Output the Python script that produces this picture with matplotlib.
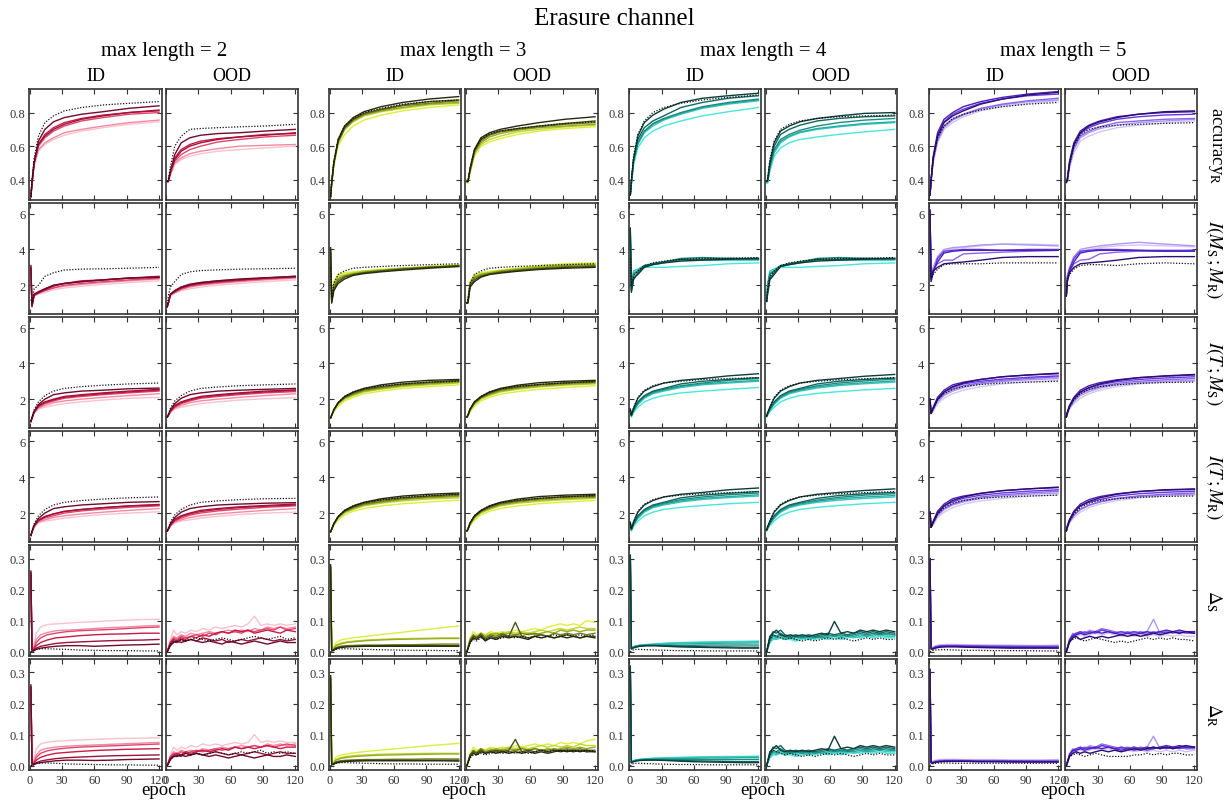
import matplotlib
matplotlib.use("Agg")
import matplotlib.pyplot as plt

plt.rcParams['font.family'] = ['Liberation Serif', 'DejaVu Serif']
plt.rcParams['mathtext.fontset'] = 'stix'

# ---------------- data ----------------
epochs_s = [1, 2, 4, 8, 14, 22, 32, 48, 68, 92, 120]
epochs_d = [1, 2, 3, 6, 10, 16, 24, 34, 46, 60, 75, 90, 105, 120]
epochs_n = [1, 4, 7, 10, 14, 18, 23, 28, 34, 40, 46, 52, 58, 64, 70, 76, 82, 88, 94, 100, 106, 112, 120]

max_lengths = [2, 3, 4, 5]
split_names = ['ID', 'OOD']
row_labels = [r'accuracy$_{\mathrm{R}}$', r'$I(M_{\mathrm{S}}\,;M_{\mathrm{R}})$',
              r'$I(T\,;M_{\mathrm{S}})$', r'$I(T\,;M_{\mathrm{R}})$',
              r'$\Delta_{\mathrm{S}}$', r'$\Delta_{\mathrm{R}}$']
x_ticks = [0, 30, 60, 90, 120]
y_ticks = [[0.4, 0.6, 0.8], [2, 4, 6], [2, 4, 6], [2, 4, 6],
           [0.0, 0.1, 0.2, 0.3], [0.0, 0.1, 0.2, 0.3]]
y_ticklabels = [['0.4', '0.6', '0.8'], ['2', '4', '6'], ['2', '4', '6'], ['2', '4', '6'],
                ['0.0', '0.1', '0.2', '0.3'], ['0.0', '0.1', '0.2', '0.3']]

palettes = {
    2: ['#6e0b2e', '#9c1238', '#c81a47', '#e0466b', '#ef8aa2', '#f8c2cf'],
    3: ['#262b0c', '#4b5417', '#737f1d', '#9aab22', '#c2d62c', '#dcef3a'],
    4: ['#0c3d39', '#12665e', '#1c8c83', '#28aca2', '#36c9bf', '#48e6dc'],
    5: ['#2c0e72', '#4a1fbe', '#6838dc', '#8a66ea', '#ac97f2', '#d1c6f8'],
}

# ---- max length = 2 ----
acc_L2_id = [
    [.30, .38, .50, .63, .70, .745, .77, .79, .805, .825, .84],
    [.30, .38, .50, .61, .66, .70, .73, .76, .78, .80, .815],
    [.30, .38, .50, .61, .67, .71, .74, .765, .785, .80, .81],
    [.30, .38, .50, .60, .65, .69, .72, .75, .77, .79, .80],
    [.30, .38, .49, .58, .62, .65, .68, .70, .72, .74, .755],
    [.30, .37, .48, .57, .61, .64, .665, .69, .71, .73, .745],
    [.30, .40, .53, .66, .74, .78, .81, .83, .845, .855, .865]]
acc_L2_ood = [
    [.39, .39, .45, .55, .62, .65, .665, .675, .68, .69, .70],
    [.39, .39, .45, .52, .57, .60, .62, .64, .655, .665, .68],
    [.39, .39, .45, .53, .58, .61, .63, .645, .655, .67, .675],
    [.39, .39, .44, .51, .55, .58, .60, .625, .64, .655, .665],
    [.39, .39, .43, .50, .53, .555, .57, .585, .60, .605, .61],
    [.39, .39, .43, .49, .52, .54, .555, .57, .58, .59, .60],
    [.39, .40, .48, .60, .66, .70, .705, .71, .715, .72, .73]]
mi_L2_id = [
    [3.1, .85, 1.5, 1.6, 1.8, 2.0, 2.1, 2.2, 2.3, 2.4, 2.45],
    [3.0, .8, 1.45, 1.6, 1.75, 1.95, 2.1, 2.2, 2.3, 2.4, 2.5],
    [2.9, .9, 1.5, 1.65, 1.8, 2.0, 2.1, 2.25, 2.3, 2.4, 2.45],
    [2.8, .85, 1.45, 1.55, 1.7, 1.85, 2.0, 2.1, 2.2, 2.3, 2.4],
    [2.6, .9, 1.4, 1.55, 1.7, 1.85, 1.95, 2.05, 2.15, 2.25, 2.35],
    [2.5, .9, 1.4, 1.5, 1.6, 1.75, 1.85, 1.95, 2.05, 2.15, 2.25],
    [1.2, 1.0, 1.8, 2.0, 2.5, 2.7, 2.85, 2.9, 2.92, 2.95, 3.0]]
mi_L2_ood = [
    [.8, 1.0, 1.5, 1.7, 1.9, 2.05, 2.15, 2.25, 2.35, 2.42, 2.5],
    [.8, 1.0, 1.5, 1.65, 1.85, 2.0, 2.1, 2.2, 2.3, 2.4, 2.5],
    [.8, 1.0, 1.5, 1.7, 1.9, 2.05, 2.15, 2.25, 2.3, 2.4, 2.45],
    [.8, 1.0, 1.45, 1.6, 1.8, 1.95, 2.05, 2.15, 2.25, 2.35, 2.45],
    [.8, 1.0, 1.45, 1.6, 1.75, 1.9, 2.0, 2.1, 2.2, 2.3, 2.4],
    [.8, 1.0, 1.4, 1.55, 1.7, 1.8, 1.9, 2.0, 2.1, 2.2, 2.3],
    [.8, 1.4, 1.9, 2.2, 2.6, 2.75, 2.82, 2.86, 2.9, 2.92, 2.95]]
ts_L2_id = [
    [.75, .95, 1.3, 1.7, 2.0, 2.25, 2.35, 2.45, 2.5, 2.58, 2.62],
    [.75, .95, 1.3, 1.65, 1.85, 2.0, 2.15, 2.25, 2.35, 2.45, 2.55],
    [.75, .95, 1.3, 1.6, 1.8, 1.95, 2.1, 2.2, 2.3, 2.4, 2.5],
    [.75, .95, 1.25, 1.55, 1.75, 1.9, 2.05, 2.15, 2.25, 2.35, 2.45],
    [.75, .95, 1.25, 1.5, 1.65, 1.8, 1.9, 2.0, 2.1, 2.2, 2.3],
    [.75, .9, 1.2, 1.45, 1.55, 1.65, 1.75, 1.85, 1.95, 2.05, 2.1],
    [.75, 1.0, 1.4, 1.85, 2.2, 2.45, 2.6, 2.7, 2.78, 2.85, 2.9]]
ts_L2_ood = [
    [1.0, 1.1, 1.4, 1.75, 2.05, 2.25, 2.35, 2.45, 2.5, 2.55, 2.6],
    [1.0, 1.1, 1.35, 1.65, 1.85, 2.0, 2.15, 2.25, 2.35, 2.45, 2.52],
    [1.0, 1.1, 1.35, 1.6, 1.8, 1.95, 2.1, 2.2, 2.3, 2.4, 2.48],
    [1.0, 1.1, 1.3, 1.55, 1.75, 1.9, 2.05, 2.15, 2.25, 2.35, 2.42],
    [1.0, 1.05, 1.3, 1.5, 1.65, 1.8, 1.9, 2.0, 2.1, 2.2, 2.3],
    [1.0, 1.05, 1.25, 1.45, 1.55, 1.65, 1.75, 1.85, 1.95, 2.02, 2.08],
    [1.0, 1.15, 1.5, 1.9, 2.2, 2.45, 2.6, 2.68, 2.75, 2.8, 2.85]]
tr_L2_id = [
    [.75, .95, 1.3, 1.7, 2.0, 2.25, 2.35, 2.45, 2.52, 2.6, 2.64],
    [.75, .95, 1.3, 1.6, 1.8, 1.95, 2.1, 2.2, 2.3, 2.4, 2.48],
    [.75, .95, 1.3, 1.6, 1.8, 1.95, 2.08, 2.2, 2.3, 2.4, 2.45],
    [.75, .95, 1.25, 1.55, 1.72, 1.85, 2.0, 2.12, 2.22, 2.32, 2.4],
    [.75, .95, 1.25, 1.5, 1.62, 1.75, 1.85, 1.95, 2.05, 2.15, 2.25],
    [.75, .9, 1.2, 1.45, 1.55, 1.62, 1.72, 1.82, 1.92, 2.0, 2.07],
    [.75, 1.0, 1.4, 1.85, 2.2, 2.45, 2.6, 2.7, 2.78, 2.85, 2.9]]
tr_L2_ood = [
    [1.0, 1.1, 1.4, 1.75, 2.05, 2.25, 2.35, 2.45, 2.5, 2.55, 2.58],
    [1.0, 1.1, 1.35, 1.65, 1.85, 2.0, 2.15, 2.25, 2.35, 2.42, 2.5],
    [1.0, 1.1, 1.35, 1.6, 1.8, 1.95, 2.08, 2.2, 2.3, 2.38, 2.45],
    [1.0, 1.1, 1.3, 1.55, 1.72, 1.88, 2.0, 2.12, 2.22, 2.32, 2.4],
    [1.0, 1.05, 1.3, 1.5, 1.62, 1.75, 1.85, 1.95, 2.05, 2.15, 2.25],
    [1.0, 1.05, 1.25, 1.45, 1.55, 1.62, 1.72, 1.82, 1.92, 2.0, 2.05],
    [1.0, 1.15, 1.5, 1.9, 2.2, 2.45, 2.6, 2.68, 2.75, 2.8, 2.82]]
ds_L2_id = [
    [.26, .005, .002, .008, .012, .015, .018, .02, .02, .018, .02, .022, .023, .025],
    [.255, .006, .003, .012, .018, .022, .027, .03, .032, .034, .036, .037, .038, .04],
    [.25, .008, .004, .02, .03, .038, .045, .048, .052, .055, .057, .058, .06, .06],
    [.24, .01, .005, .03, .045, .055, .06, .065, .068, .07, .072, .075, .078, .08],
    [.23, .012, .006, .04, .055, .062, .068, .07, .072, .075, .078, .08, .083, .085],
    [.22, .015, .01, .06, .08, .088, .09, .092, .095, .097, .1, .102, .104, .105],
    [0, .002, .004, .008, .01, .01, .009, .008, .006, .005, .004, .004, .003, .003]]
ds_L2_ood = [
    [0, .02, .03, .035, .03, .035, .04, .035, .03, .035, .03, .025, .035, .03, .025, .03, .035, .03, .025, .03, .035, .03, .03],
    [0, .025, .035, .03, .04, .035, .04, .035, .045, .04, .035, .04, .03, .035, .04, .035, .04, .045, .04, .035, .04, .035, .04],
    [0, .03, .04, .035, .045, .04, .05, .045, .055, .05, .06, .065, .06, .07, .065, .07, .06, .065, .07, .065, .06, .07, .065],
    [0, .03, .045, .04, .05, .045, .05, .055, .05, .06, .055, .065, .06, .065, .06, .07, .065, .07, .075, .07, .08, .07, .075],
    [0, .035, .05, .045, .055, .05, .06, .055, .06, .065, .06, .065, .07, .065, .07, .065, .075, .07, .08, .075, .08, .075, .08],
    [0, .04, .07, .055, .065, .06, .07, .065, .075, .07, .08, .075, .08, .085, .08, .09, .115, .085, .09, .085, .09, .085, .09],
    [0, .025, .035, .03, .04, .035, .04, .045, .04, .035, .04, .045, .04, .035, .04, .045, .05, .045, .04, .045, .05, .04, .045]]
dr_L2_id = [
    [.26, .005, .002, .007, .01, .013, .016, .018, .018, .017, .018, .02, .021, .022],
    [.255, .006, .003, .01, .015, .019, .023, .026, .028, .03, .032, .033, .034, .035],
    [.25, .008, .004, .018, .027, .034, .04, .043, .046, .049, .051, .053, .054, .055],
    [.24, .01, .005, .027, .04, .048, .053, .057, .06, .062, .064, .066, .068, .07],
    [.23, .012, .006, .035, .05, .056, .06, .063, .065, .067, .069, .071, .073, .075],
    [.22, .015, .01, .055, .07, .076, .079, .081, .083, .085, .087, .088, .089, .09],
    [0, .002, .004, .008, .009, .009, .008, .006, .005, .004, .003, .003, .002, .002]]
dr_L2_ood = [
    [0, .02, .03, .03, .035, .03, .035, .04, .035, .03, .035, .03, .025, .03, .035, .03, .025, .03, .035, .03, .03, .035, .03],
    [0, .025, .03, .035, .03, .04, .035, .04, .035, .04, .045, .04, .035, .04, .035, .04, .045, .04, .035, .04, .045, .04, .04],
    [0, .025, .035, .04, .035, .045, .04, .045, .05, .045, .05, .055, .05, .06, .055, .06, .055, .06, .065, .06, .055, .06, .06],
    [0, .03, .04, .035, .045, .04, .045, .05, .045, .05, .055, .05, .055, .06, .055, .06, .065, .06, .065, .06, .065, .07, .065],
    [0, .03, .045, .04, .05, .045, .05, .045, .055, .05, .055, .06, .055, .06, .065, .06, .065, .06, .07, .065, .07, .065, .07],
    [0, .035, .06, .05, .06, .055, .065, .06, .07, .065, .07, .065, .07, .075, .07, .075, .1, .075, .08, .075, .08, .075, .075],
    [0, .02, .03, .03, .035, .04, .035, .04, .035, .04, .045, .04, .035, .04, .045, .04, .045, .05, .04, .045, .04, .045, .04]]

# ---- max length = 3 ----
acc_L3_id = [
    [.30, .38, .50, .64, .72, .77, .805, .835, .86, .88, .895],
    [.30, .38, .50, .63, .71, .76, .795, .82, .845, .865, .875],
    [.30, .38, .50, .63, .71, .755, .79, .815, .84, .855, .87],
    [.30, .38, .50, .62, .70, .75, .785, .81, .83, .85, .86],
    [.30, .38, .49, .62, .70, .745, .78, .805, .825, .845, .855],
    [.30, .37, .48, .60, .67, .72, .755, .785, .81, .83, .845],
    [.30, .39, .51, .64, .72, .765, .80, .825, .85, .865, .875]]
acc_L3_ood = [
    [.39, .39, .47, .58, .65, .68, .70, .72, .74, .76, .775],
    [.39, .39, .46, .57, .64, .67, .69, .705, .72, .735, .75],
    [.39, .39, .46, .57, .63, .665, .685, .70, .715, .73, .74],
    [.39, .39, .45, .56, .62, .655, .675, .695, .71, .72, .73],
    [.39, .39, .45, .55, .61, .64, .66, .685, .70, .715, .725],
    [.39, .38, .44, .54, .60, .625, .645, .67, .69, .705, .715],
    [.39, .39, .47, .58, .64, .675, .69, .705, .72, .735, .745]]
mi_L3_id = [
    [4.1, 1.0, 1.7, 2.1, 2.35, 2.55, 2.65, 2.75, 2.85, 2.95, 3.05],
    [4.0, 1.1, 1.8, 2.2, 2.45, 2.6, 2.7, 2.8, 2.9, 3.0, 3.1],
    [3.9, 1.1, 1.9, 2.3, 2.5, 2.6, 2.7, 2.8, 2.9, 3.0, 3.05],
    [3.8, 1.2, 2.0, 2.4, 2.55, 2.65, 2.75, 2.85, 2.95, 3.0, 3.1],
    [3.7, 1.2, 2.1, 2.5, 2.6, 2.7, 2.8, 2.85, 2.95, 3.05, 3.1],
    [3.6, 1.3, 2.2, 2.6, 2.7, 2.75, 2.8, 2.9, 2.95, 3.05, 3.15],
    [3.0, 1.3, 2.1, 2.6, 2.8, 2.95, 3.0, 3.05, 3.1, 3.15, 3.2]]
mi_L3_ood = [
    [1.0, 1.0, 1.9, 2.2, 2.45, 2.6, 2.68, 2.78, 2.88, 2.95, 3.0],
    [1.0, 1.05, 2.0, 2.3, 2.5, 2.62, 2.72, 2.82, 2.92, 3.0, 3.05],
    [1.0, 1.1, 2.1, 2.4, 2.55, 2.65, 2.75, 2.85, 2.95, 3.05, 3.1],
    [1.0, 1.1, 2.1, 2.45, 2.6, 2.7, 2.8, 2.9, 3.0, 3.1, 3.15],
    [1.0, 1.15, 2.2, 2.5, 2.65, 2.72, 2.82, 2.92, 3.05, 3.15, 3.2],
    [1.0, 1.2, 2.2, 2.6, 2.7, 2.78, 2.85, 2.95, 3.1, 3.2, 3.25],
    [1.0, 1.3, 2.1, 2.6, 2.8, 2.95, 3.0, 3.05, 3.1, 3.15, 3.2]]
ts_L3_id = [
    [.95, 1.1, 1.4, 1.8, 2.15, 2.4, 2.6, 2.8, 2.95, 3.05, 3.1],
    [.95, 1.1, 1.4, 1.8, 2.1, 2.35, 2.55, 2.7, 2.85, 2.95, 3.05],
    [.95, 1.1, 1.4, 1.8, 2.1, 2.3, 2.5, 2.65, 2.8, 2.9, 3.0],
    [.95, 1.1, 1.4, 1.75, 2.05, 2.25, 2.45, 2.6, 2.75, 2.85, 2.95],
    [.95, 1.1, 1.35, 1.7, 2.0, 2.2, 2.4, 2.55, 2.7, 2.8, 2.9],
    [.95, 1.05, 1.3, 1.6, 1.9, 2.1, 2.3, 2.45, 2.6, 2.7, 2.8],
    [.95, 1.1, 1.4, 1.8, 2.15, 2.4, 2.6, 2.75, 2.85, 2.95, 3.0]]
ts_L3_ood = [
    [1.0, 1.1, 1.45, 1.85, 2.15, 2.4, 2.6, 2.78, 2.92, 3.0, 3.05],
    [1.0, 1.1, 1.45, 1.8, 2.1, 2.35, 2.55, 2.7, 2.82, 2.92, 3.0],
    [1.0, 1.1, 1.4, 1.8, 2.1, 2.3, 2.5, 2.65, 2.78, 2.88, 2.95],
    [1.0, 1.1, 1.4, 1.75, 2.05, 2.25, 2.45, 2.6, 2.72, 2.82, 2.9],
    [1.0, 1.1, 1.35, 1.7, 2.0, 2.2, 2.4, 2.55, 2.68, 2.78, 2.85],
    [1.0, 1.05, 1.3, 1.6, 1.9, 2.1, 2.28, 2.42, 2.55, 2.65, 2.75],
    [1.0, 1.1, 1.45, 1.85, 2.15, 2.4, 2.58, 2.72, 2.82, 2.9, 2.98]]
tr_L3_id = [
    [.95, 1.1, 1.4, 1.8, 2.15, 2.4, 2.6, 2.8, 2.95, 3.05, 3.12],
    [.95, 1.1, 1.4, 1.8, 2.1, 2.35, 2.55, 2.72, 2.85, 2.95, 3.05],
    [.95, 1.1, 1.4, 1.8, 2.1, 2.3, 2.5, 2.65, 2.8, 2.9, 2.98],
    [.95, 1.1, 1.4, 1.75, 2.05, 2.25, 2.45, 2.6, 2.75, 2.85, 2.92],
    [.95, 1.1, 1.35, 1.7, 2.0, 2.2, 2.4, 2.55, 2.68, 2.78, 2.85],
    [.95, 1.05, 1.3, 1.6, 1.9, 2.1, 2.25, 2.4, 2.52, 2.62, 2.72],
    [.95, 1.1, 1.4, 1.8, 2.15, 2.4, 2.6, 2.75, 2.88, 2.98, 3.05]]
tr_L3_ood = [
    [1.0, 1.1, 1.45, 1.85, 2.15, 2.4, 2.6, 2.78, 2.92, 3.0, 3.05],
    [1.0, 1.1, 1.45, 1.8, 2.1, 2.35, 2.55, 2.7, 2.82, 2.92, 2.98],
    [1.0, 1.1, 1.4, 1.8, 2.1, 2.3, 2.5, 2.65, 2.78, 2.88, 2.92],
    [1.0, 1.1, 1.4, 1.75, 2.05, 2.25, 2.45, 2.6, 2.72, 2.8, 2.88],
    [1.0, 1.1, 1.35, 1.7, 2.0, 2.2, 2.4, 2.55, 2.65, 2.75, 2.82],
    [1.0, 1.05, 1.3, 1.6, 1.9, 2.1, 2.25, 2.4, 2.52, 2.62, 2.7],
    [1.0, 1.1, 1.45, 1.85, 2.15, 2.4, 2.58, 2.72, 2.82, 2.9, 2.98]]
ds_L3_id = [
    [.28, .005, .003, .01, .014, .016, .017, .018, .018, .018, .018, .018, .018, .018],
    [.275, .006, .004, .012, .016, .018, .019, .02, .02, .02, .02, .02, .02, .02],
    [.27, .007, .005, .014, .018, .02, .021, .022, .022, .023, .023, .024, .025, .025],
    [.27, .008, .006, .02, .025, .03, .033, .036, .038, .04, .041, .042, .043, .043],
    [.26, .009, .007, .022, .028, .032, .035, .038, .04, .042, .043, .044, .045, .045],
    [.25, .01, .008, .03, .038, .042, .046, .05, .055, .06, .066, .072, .078, .083],
    [0, .002, .004, .008, .01, .01, .009, .008, .007, .006, .005, .005, .004, .004]]
ds_L3_ood = [
    [0, .03, .045, .04, .05, .035, .045, .04, .05, .045, .05, .045, .04, .05, .045, .05, .045, .05, .045, .05, .045, .05, .045],
    [0, .035, .05, .045, .055, .04, .05, .045, .055, .05, .095, .05, .045, .05, .055, .05, .045, .05, .055, .05, .045, .05, .05],
    [0, .04, .055, .045, .06, .045, .055, .05, .06, .05, .055, .06, .055, .06, .055, .05, .06, .055, .06, .055, .06, .055, .06],
    [0, .035, .05, .05, .055, .05, .055, .06, .055, .06, .055, .05, .06, .055, .06, .065, .06, .07, .065, .07, .065, .07, .07],
    [0, .04, .055, .05, .06, .055, .06, .055, .06, .065, .06, .065, .06, .065, .07, .065, .07, .075, .07, .075, .08, .075, .075],
    [0, .045, .065, .055, .06, .055, .065, .06, .065, .06, .07, .065, .07, .075, .07, .08, .085, .09, .085, .09, .085, .1, .095],
    [0, .03, .04, .035, .045, .04, .045, .04, .045, .05, .045, .05, .045, .05, .045, .05, .055, .05, .055, .05, .055, .05, .055]]
dr_L3_id = [
    [.29, .005, .003, .009, .012, .014, .015, .016, .016, .016, .016, .016, .016, .015],
    [.285, .006, .004, .011, .014, .016, .017, .018, .018, .018, .018, .018, .018, .018],
    [.28, .007, .005, .013, .016, .018, .019, .02, .02, .021, .021, .022, .022, .022],
    [.28, .008, .006, .018, .023, .027, .03, .032, .034, .035, .036, .037, .038, .038],
    [.27, .009, .007, .02, .026, .03, .033, .035, .037, .038, .039, .04, .04, .04],
    [.26, .01, .008, .028, .034, .038, .042, .046, .05, .054, .059, .064, .068, .072],
    [0, .002, .004, .008, .01, .01, .009, .008, .007, .006, .006, .005, .005, .005]]
dr_L3_ood = [
    [0, .03, .04, .035, .045, .04, .045, .04, .045, .04, .045, .04, .045, .04, .045, .04, .045, .05, .045, .05, .045, .05, .045],
    [0, .035, .045, .04, .05, .04, .045, .05, .045, .05, .085, .045, .05, .045, .05, .045, .05, .045, .05, .045, .05, .045, .045],
    [0, .035, .05, .04, .055, .045, .05, .045, .05, .045, .05, .055, .05, .055, .05, .05, .055, .05, .055, .05, .055, .05, .05],
    [0, .03, .045, .045, .05, .045, .05, .055, .05, .055, .05, .045, .05, .055, .05, .055, .05, .055, .06, .055, .06, .055, .06],
    [0, .035, .05, .045, .055, .05, .055, .05, .055, .06, .055, .06, .055, .06, .065, .06, .065, .06, .065, .06, .07, .065, .065],
    [0, .04, .06, .05, .055, .05, .06, .055, .06, .055, .065, .06, .065, .07, .065, .07, .065, .075, .07, .075, .07, .08, .085],
    [0, .025, .035, .035, .04, .035, .04, .045, .04, .045, .04, .045, .04, .045, .05, .045, .05, .045, .05, .045, .05, .045, .05]]

# ---- max length = 4 ----
acc_L4_id = [
    [.31, .39, .52, .66, .74, .785, .82, .86, .885, .90, .915],
    [.31, .39, .52, .64, .71, .75, .78, .83, .86, .885, .90],
    [.31, .38, .51, .62, .69, .735, .765, .80, .835, .86, .88],
    [.31, .38, .51, .62, .685, .73, .76, .795, .83, .855, .875],
    [.31, .38, .50, .61, .68, .72, .755, .79, .825, .85, .87],
    [.31, .37, .49, .59, .65, .69, .72, .75, .78, .805, .83],
    [.31, .40, .54, .67, .75, .80, .83, .855, .875, .89, .905]]
acc_L4_ood = [
    [.39, .40, .50, .62, .69, .72, .745, .765, .78, .795, .80],
    [.39, .40, .49, .60, .67, .70, .725, .75, .765, .775, .78],
    [.39, .39, .48, .58, .64, .67, .695, .72, .74, .755, .765],
    [.39, .39, .47, .57, .63, .66, .685, .705, .72, .735, .745],
    [.39, .39, .47, .56, .62, .655, .68, .70, .715, .73, .74],
    [.38, .38, .45, .54, .59, .62, .64, .655, .67, .685, .70],
    [.39, .41, .52, .63, .70, .73, .75, .765, .775, .78, .785]]
mi_L4_id = [
    [5.2, 1.6, 2.4, 2.6, 3.0, 3.15, 3.25, 3.35, 3.4, 3.45, 3.5],
    [5.1, 1.7, 2.3, 2.7, 3.05, 3.2, 3.3, 3.45, 3.45, 3.5, 3.5],
    [5.0, 1.8, 2.6, 2.8, 3.1, 3.2, 3.3, 3.5, 3.55, 3.5, 3.45],
    [4.8, 1.9, 2.7, 2.8, 3.05, 3.15, 3.25, 3.4, 3.45, 3.45, 3.45],
    [4.6, 2.0, 2.8, 2.9, 3.1, 3.2, 3.3, 3.4, 3.4, 3.4, 3.4],
    [4.4, 2.0, 2.6, 2.8, 3.0, 3.0, 3.0, 3.05, 3.1, 3.2, 3.25],
    [3.5, 2.0, 2.5, 2.8, 3.1, 3.25, 3.35, 3.45, 3.5, 3.5, 3.55]]
mi_L4_ood = [
    [1.1, 1.5, 2.3, 2.6, 3.05, 3.15, 3.25, 3.35, 3.4, 3.45, 3.5],
    [1.1, 1.7, 2.4, 2.7, 3.05, 3.2, 3.3, 3.45, 3.45, 3.5, 3.5],
    [1.1, 1.9, 2.6, 2.8, 3.1, 3.2, 3.3, 3.5, 3.55, 3.5, 3.45],
    [1.1, 2.0, 2.7, 2.8, 3.05, 3.15, 3.25, 3.4, 3.45, 3.45, 3.45],
    [1.1, 2.1, 2.8, 2.9, 3.1, 3.2, 3.3, 3.4, 3.4, 3.4, 3.4],
    [1.1, 2.0, 2.6, 2.8, 3.0, 3.0, 3.0, 3.05, 3.1, 3.2, 3.25],
    [1.1, 1.8, 2.5, 2.8, 3.1, 3.25, 3.35, 3.45, 3.5, 3.5, 3.55]]
ts_L4_id = [
    [1.45, 1.1, 1.5, 2.05, 2.45, 2.7, 2.9, 3.05, 3.15, 3.3, 3.42],
    [1.4, 1.1, 1.4, 1.85, 2.2, 2.45, 2.6, 2.85, 3.0, 3.1, 3.2],
    [1.4, 1.1, 1.4, 1.8, 2.15, 2.4, 2.55, 2.75, 2.9, 3.05, 3.15],
    [1.35, 1.05, 1.35, 1.75, 2.1, 2.35, 2.5, 2.7, 2.85, 2.95, 3.05],
    [1.35, 1.05, 1.35, 1.7, 2.05, 2.3, 2.45, 2.65, 2.8, 2.9, 3.0],
    [1.3, 1.0, 1.25, 1.55, 1.85, 2.05, 2.2, 2.35, 2.45, 2.55, 2.65],
    [1.4, 1.1, 1.5, 2.1, 2.5, 2.75, 2.9, 3.0, 3.1, 3.15, 3.2]]
ts_L4_ood = [
    [1.05, 1.25, 1.55, 2.05, 2.45, 2.7, 2.9, 3.05, 3.15, 3.28, 3.38],
    [1.05, 1.2, 1.45, 1.85, 2.2, 2.45, 2.6, 2.85, 3.0, 3.1, 3.18],
    [1.05, 1.2, 1.45, 1.8, 2.15, 2.4, 2.55, 2.75, 2.9, 3.02, 3.12],
    [1.05, 1.15, 1.4, 1.75, 2.1, 2.35, 2.5, 2.68, 2.82, 2.92, 3.02],
    [1.05, 1.15, 1.4, 1.7, 2.05, 2.3, 2.45, 2.62, 2.76, 2.86, 2.95],
    [1.0, 1.1, 1.3, 1.55, 1.85, 2.05, 2.2, 2.32, 2.42, 2.52, 2.6],
    [1.05, 1.25, 1.55, 2.1, 2.5, 2.75, 2.9, 3.0, 3.08, 3.14, 3.2]]
tr_L4_id = [
    [1.5, 1.1, 1.5, 2.05, 2.45, 2.7, 2.9, 3.05, 3.15, 3.3, 3.4],
    [1.45, 1.1, 1.4, 1.85, 2.2, 2.45, 2.6, 2.85, 3.0, 3.1, 3.2],
    [1.4, 1.1, 1.4, 1.8, 2.15, 2.4, 2.55, 2.75, 2.9, 3.02, 3.12],
    [1.35, 1.05, 1.35, 1.75, 2.1, 2.35, 2.5, 2.68, 2.82, 2.92, 3.02],
    [1.35, 1.05, 1.35, 1.7, 2.05, 2.3, 2.45, 2.62, 2.76, 2.86, 2.95],
    [1.3, 1.0, 1.25, 1.55, 1.85, 2.05, 2.2, 2.32, 2.42, 2.52, 2.6],
    [1.4, 1.1, 1.5, 2.1, 2.5, 2.75, 2.9, 3.0, 3.08, 3.14, 3.2]]
tr_L4_ood = [
    [1.05, 1.25, 1.55, 2.05, 2.45, 2.7, 2.9, 3.05, 3.15, 3.26, 3.35],
    [1.05, 1.2, 1.45, 1.85, 2.2, 2.45, 2.6, 2.82, 2.98, 3.08, 3.15],
    [1.05, 1.2, 1.45, 1.8, 2.15, 2.4, 2.55, 2.72, 2.88, 3.0, 3.08],
    [1.05, 1.15, 1.4, 1.75, 2.1, 2.35, 2.5, 2.66, 2.8, 2.9, 2.98],
    [1.05, 1.15, 1.4, 1.7, 2.05, 2.3, 2.45, 2.6, 2.72, 2.82, 2.9],
    [1.0, 1.1, 1.3, 1.55, 1.85, 2.05, 2.2, 2.32, 2.42, 2.52, 2.6],
    [1.05, 1.25, 1.55, 2.1, 2.5, 2.75, 2.9, 3.0, 3.08, 3.14, 3.2]]
ds_L4_id = [
    [.31, .01, .012, .015, .018, .02, .02, .018, .016, .015, .014, .013, .012, .012],
    [.31, .01, .012, .016, .019, .02, .02, .019, .018, .017, .016, .016, .015, .015],
    [.31, .01, .013, .017, .02, .021, .021, .02, .02, .021, .022, .022, .022, .022],
    [.31, .01, .014, .018, .02, .022, .023, .024, .025, .026, .027, .028, .028, .029],
    [.31, .01, .015, .019, .021, .023, .025, .027, .029, .03, .031, .032, .032, .033],
    [.31, .01, .015, .02, .022, .024, .026, .028, .03, .031, .032, .033, .034, .035],
    [0, .003, .006, .008, .008, .007, .006, .005, .004, .004, .003, .003, .003, .003]]
ds_L4_ood = [
    [0, .05, .06, .07, .055, .05, .055, .05, .055, .05, .055, .06, .055, .098, .06, .065, .06, .07, .065, .07, .065, .07, .065],
    [0, .045, .065, .06, .07, .055, .05, .055, .05, .055, .05, .055, .06, .055, .06, .055, .06, .065, .06, .065, .06, .065, .06],
    [0, .04, .055, .05, .06, .05, .045, .05, .045, .05, .045, .05, .055, .05, .055, .05, .055, .06, .055, .06, .055, .06, .055],
    [0, .035, .05, .045, .055, .045, .05, .045, .05, .045, .05, .045, .05, .055, .05, .055, .05, .055, .05, .055, .06, .055, .055],
    [0, .03, .045, .04, .05, .04, .045, .04, .045, .04, .045, .05, .045, .05, .045, .05, .045, .05, .055, .05, .055, .05, .05],
    [0, .03, .04, .04, .045, .04, .04, .035, .04, .045, .04, .045, .04, .045, .04, .045, .05, .045, .05, .045, .05, .045, .045],
    [0, .04, .055, .05, .045, .04, .045, .04, .035, .04, .035, .04, .045, .04, .045, .04, .035, .04, .045, .04, .045, .04, .04]]
dr_L4_id = [
    [.32, .01, .012, .015, .017, .018, .018, .017, .015, .013, .012, .011, .01, .01],
    [.32, .01, .012, .016, .018, .019, .019, .018, .017, .016, .015, .014, .013, .013],
    [.315, .01, .013, .017, .019, .02, .02, .02, .02, .02, .02, .02, .02, .02],
    [.31, .01, .014, .018, .02, .021, .022, .023, .023, .024, .025, .025, .026, .026],
    [.31, .01, .014, .018, .02, .022, .024, .025, .026, .027, .028, .028, .029, .029],
    [.30, .01, .015, .019, .021, .023, .025, .026, .027, .028, .029, .03, .03, .031],
    [0, .003, .006, .008, .008, .007, .006, .005, .004, .004, .003, .003, .003, .003]]
dr_L4_ood = [
    [0, .045, .055, .065, .05, .045, .05, .045, .05, .045, .05, .055, .05, .095, .055, .06, .055, .065, .06, .065, .06, .065, .06],
    [0, .04, .06, .055, .065, .05, .045, .05, .045, .05, .045, .05, .055, .05, .055, .05, .055, .06, .055, .06, .055, .06, .055],
    [0, .035, .05, .045, .055, .045, .04, .045, .04, .045, .04, .045, .05, .045, .05, .045, .05, .055, .05, .055, .05, .055, .05],
    [0, .03, .045, .04, .05, .04, .045, .04, .045, .04, .045, .04, .045, .05, .045, .05, .045, .05, .045, .05, .055, .05, .05],
    [0, .03, .04, .035, .045, .035, .04, .035, .04, .035, .04, .045, .04, .045, .04, .045, .04, .045, .05, .045, .05, .045, .045],
    [0, .025, .035, .035, .04, .035, .035, .03, .035, .04, .035, .04, .035, .04, .035, .04, .045, .04, .045, .04, .045, .04, .04],
    [0, .035, .05, .045, .04, .035, .04, .035, .03, .035, .03, .035, .04, .035, .04, .035, .03, .035, .04, .035, .04, .035, .035]]

# ---- max length = 5 ----
acc_L5_id = [
    [.31, .40, .53, .66, .74, .78, .81, .85, .88, .905, .92],
    [.31, .40, .54, .68, .76, .80, .835, .865, .89, .91, .925],
    [.31, .40, .53, .66, .745, .79, .82, .855, .88, .90, .91],
    [.31, .39, .52, .64, .72, .76, .79, .825, .85, .87, .885],
    [.31, .39, .51, .63, .71, .755, .785, .82, .845, .865, .875],
    [.31, .38, .50, .62, .70, .74, .775, .81, .835, .855, .87],
    [.31, .40, .53, .65, .72, .765, .79, .815, .835, .85, .86]]
acc_L5_ood = [
    [.385, .40, .50, .61, .68, .72, .745, .77, .79, .805, .81],
    [.385, .41, .51, .62, .69, .725, .75, .775, .79, .80, .805],
    [.385, .40, .50, .61, .675, .71, .735, .76, .775, .785, .79],
    [.385, .40, .49, .59, .66, .69, .715, .74, .75, .76, .765],
    [.385, .39, .48, .58, .65, .68, .705, .725, .74, .75, .76],
    [.385, .39, .47, .56, .63, .66, .685, .71, .725, .74, .75],
    [.385, .40, .49, .60, .67, .70, .715, .725, .73, .735, .74]]
mi_L5_id = [
    [6.2, 2.2, 2.8, 3.0, 3.2, 3.25, 3.3, 3.4, 3.55, 3.6, 3.6],
    [6.2, 2.3, 2.8, 3.3, 3.8, 3.9, 3.95, 3.95, 3.95, 3.95, 3.95],
    [6.1, 2.4, 2.7, 3.5, 3.9, 3.95, 4.0, 4.0, 3.95, 4.0, 4.0],
    [6.0, 2.5, 2.9, 3.2, 3.4, 3.4, 3.75, 3.8, 3.85, 3.9, 3.95],
    [5.8, 2.6, 3.0, 3.6, 4.0, 4.1, 4.15, 4.25, 4.3, 4.25, 4.2],
    [5.6, 2.6, 2.9, 3.4, 3.9, 4.05, 4.1, 4.2, 4.3, 4.3, 4.25],
    [3.0, 2.4, 2.6, 2.9, 3.15, 3.2, 3.2, 3.2, 3.25, 3.25, 3.25]]
mi_L5_ood = [
    [1.4, 2.2, 2.7, 3.0, 3.2, 3.25, 3.3, 3.4, 3.55, 3.6, 3.6],
    [1.4, 2.3, 2.8, 3.3, 3.8, 3.9, 3.95, 3.95, 3.95, 3.9, 3.9],
    [1.4, 2.4, 2.9, 3.5, 3.9, 3.95, 4.0, 4.0, 3.95, 3.95, 3.95],
    [1.4, 2.5, 2.8, 3.2, 3.4, 3.45, 3.75, 3.85, 3.9, 3.9, 3.95],
    [1.4, 2.6, 3.0, 3.6, 4.0, 4.1, 4.2, 4.3, 4.4, 4.3, 4.2],
    [1.4, 2.5, 2.9, 3.4, 3.9, 4.0, 4.1, 4.2, 4.25, 4.2, 4.15],
    [1.4, 2.4, 2.6, 2.9, 3.1, 3.15, 3.15, 3.1, 3.2, 3.25, 3.2]]
ts_L5_id = [
    [2.0, 1.2, 1.5, 2.0, 2.4, 2.7, 2.9, 3.1, 3.25, 3.35, 3.45],
    [2.0, 1.2, 1.55, 2.1, 2.5, 2.8, 2.95, 3.1, 3.25, 3.35, 3.42],
    [2.0, 1.2, 1.5, 2.0, 2.4, 2.65, 2.85, 3.0, 3.12, 3.22, 3.3],
    [2.0, 1.2, 1.45, 1.95, 2.3, 2.55, 2.75, 2.92, 3.05, 3.15, 3.25],
    [2.0, 1.2, 1.4, 1.85, 2.2, 2.45, 2.65, 2.85, 2.98, 3.08, 3.15],
    [2.0, 1.2, 1.35, 1.75, 2.05, 2.3, 2.5, 2.7, 2.85, 2.97, 3.05],
    [2.0, 1.2, 1.45, 1.95, 2.3, 2.55, 2.7, 2.82, 2.9, 2.95, 3.0]]
ts_L5_ood = [
    [1.0, 1.25, 1.6, 2.05, 2.4, 2.65, 2.85, 3.05, 3.2, 3.3, 3.38],
    [1.0, 1.3, 1.65, 2.1, 2.5, 2.75, 2.92, 3.08, 3.2, 3.28, 3.35],
    [1.0, 1.25, 1.6, 2.05, 2.4, 2.62, 2.8, 2.98, 3.1, 3.18, 3.25],
    [1.0, 1.2, 1.55, 1.95, 2.3, 2.52, 2.7, 2.88, 3.0, 3.08, 3.15],
    [1.0, 1.2, 1.5, 1.85, 2.2, 2.42, 2.62, 2.8, 2.92, 3.0, 3.05],
    [1.0, 1.15, 1.45, 1.75, 2.05, 2.3, 2.5, 2.7, 2.85, 2.95, 3.0],
    [1.0, 1.25, 1.55, 1.95, 2.3, 2.55, 2.7, 2.8, 2.88, 2.93, 2.95]]
tr_L5_id = [
    [2.05, 1.2, 1.5, 2.0, 2.4, 2.7, 2.9, 3.1, 3.25, 3.35, 3.45],
    [2.05, 1.2, 1.55, 2.1, 2.5, 2.8, 2.95, 3.1, 3.25, 3.35, 3.42],
    [2.05, 1.2, 1.5, 2.0, 2.4, 2.62, 2.82, 3.0, 3.12, 3.22, 3.3],
    [2.05, 1.2, 1.45, 1.9, 2.25, 2.5, 2.7, 2.9, 3.02, 3.12, 3.22],
    [2.05, 1.2, 1.4, 1.85, 2.2, 2.45, 2.62, 2.82, 2.95, 3.05, 3.12],
    [2.05, 1.2, 1.35, 1.75, 2.05, 2.3, 2.5, 2.68, 2.82, 2.94, 3.02],
    [2.05, 1.2, 1.45, 1.95, 2.3, 2.55, 2.7, 2.82, 2.9, 2.95, 3.0]]
tr_L5_ood = [
    [1.0, 1.25, 1.6, 2.05, 2.4, 2.65, 2.85, 3.05, 3.2, 3.3, 3.35],
    [1.0, 1.3, 1.65, 2.1, 2.5, 2.75, 2.92, 3.08, 3.2, 3.28, 3.32],
    [1.0, 1.25, 1.6, 2.05, 2.4, 2.6, 2.75, 2.95, 3.08, 3.16, 3.22],
    [1.0, 1.2, 1.5, 1.9, 2.2, 2.45, 2.62, 2.82, 2.96, 3.05, 3.12],
    [1.0, 1.2, 1.5, 1.85, 2.2, 2.42, 2.62, 2.8, 2.92, 3.0, 3.05],
    [1.0, 1.15, 1.45, 1.75, 2.05, 2.3, 2.5, 2.7, 2.85, 2.95, 3.0],
    [1.0, 1.25, 1.55, 1.95, 2.3, 2.55, 2.7, 2.8, 2.88, 2.93, 2.95]]
ds_L5_id = [
    [.30, .01, .008, .012, .015, .016, .016, .015, .014, .013, .012, .012, .012, .012],
    [.30, .01, .009, .014, .017, .018, .018, .017, .016, .015, .014, .014, .014, .013],
    [.30, .01, .01, .015, .018, .019, .019, .018, .018, .017, .017, .016, .016, .016],
    [.295, .012, .011, .016, .019, .02, .02, .02, .019, .019, .018, .018, .018, .018],
    [.29, .012, .012, .018, .021, .022, .022, .021, .021, .02, .02, .02, .019, .02],
    [.285, .014, .014, .02, .023, .024, .024, .023, .022, .022, .022, .021, .021, .022],
    [0, .003, .004, .006, .007, .007, .006, .005, .005, .004, .004, .004, .003, .003]]
ds_L5_ood = [
    [0, .03, .045, .05, .04, .045, .05, .045, .05, .045, .05, .055, .05, .055, .05, .055, .06, .055, .06, .065, .06, .065, .06],
    [0, .035, .05, .055, .06, .055, .06, .065, .06, .065, .06, .055, .06, .055, .06, .065, .06, .065, .07, .065, .07, .065, .065],
    [0, .04, .055, .06, .065, .06, .065, .06, .07, .065, .06, .065, .06, .065, .06, .055, .06, .065, .06, .065, .06, .065, .065],
    [0, .035, .05, .055, .06, .065, .06, .065, .075, .07, .065, .06, .065, .06, .065, .06, .065, .06, .065, .06, .065, .06, .06],
    [0, .04, .06, .055, .065, .06, .07, .065, .07, .065, .06, .065, .06, .065, .06, .065, .105, .06, .065, .06, .065, .06, .06],
    [0, .035, .05, .05, .055, .05, .055, .06, .055, .06, .055, .05, .055, .05, .055, .05, .055, .05, .055, .05, .055, .05, .05],
    [0, .035, .04, .045, .04, .035, .04, .045, .04, .035, .03, .035, .03, .035, .04, .045, .04, .045, .04, .045, .04, .04, .035]]
dr_L5_id = [
    [.31, .01, .008, .011, .013, .014, .014, .014, .013, .013, .012, .012, .012, .012],
    [.31, .01, .009, .012, .014, .015, .015, .015, .014, .014, .014, .013, .013, .013],
    [.305, .01, .01, .013, .015, .016, .016, .016, .015, .015, .015, .015, .014, .014],
    [.30, .012, .011, .014, .016, .017, .017, .017, .016, .016, .016, .016, .016, .016],
    [.295, .012, .012, .016, .018, .019, .019, .018, .018, .018, .017, .017, .017, .018],
    [.29, .014, .014, .018, .02, .021, .021, .02, .02, .02, .019, .019, .019, .02],
    [0, .004, .006, .008, .009, .009, .008, .008, .008, .008, .008, .008, .008, .008]]
dr_L5_ood = [
    [0, .03, .04, .045, .04, .045, .04, .045, .05, .045, .05, .045, .05, .055, .05, .055, .06, .055, .06, .055, .06, .065, .06],
    [0, .035, .05, .05, .055, .05, .055, .06, .055, .06, .055, .05, .055, .05, .055, .06, .055, .06, .065, .06, .065, .06, .06],
    [0, .035, .05, .055, .06, .055, .06, .055, .065, .06, .055, .06, .055, .06, .055, .05, .055, .06, .055, .06, .055, .06, .06],
    [0, .03, .045, .05, .055, .06, .055, .06, .07, .065, .06, .055, .06, .055, .06, .055, .06, .055, .06, .055, .06, .055, .055],
    [0, .04, .055, .05, .06, .055, .065, .06, .065, .06, .055, .06, .055, .06, .055, .06, .095, .055, .06, .055, .06, .055, .055],
    [0, .03, .045, .045, .05, .045, .05, .055, .05, .055, .05, .045, .05, .045, .05, .045, .05, .045, .05, .045, .05, .045, .05],
    [0, .03, .035, .04, .035, .03, .035, .04, .035, .03, .03, .03, .03, .035, .035, .04, .035, .04, .035, .04, .04, .035, .035]]

panel_data = {
    2: [(acc_L2_id, acc_L2_ood), (mi_L2_id, mi_L2_ood), (ts_L2_id, ts_L2_ood),
        (tr_L2_id, tr_L2_ood), (ds_L2_id, ds_L2_ood), (dr_L2_id, dr_L2_ood)],
    3: [(acc_L3_id, acc_L3_ood), (mi_L3_id, mi_L3_ood), (ts_L3_id, ts_L3_ood),
        (tr_L3_id, tr_L3_ood), (ds_L3_id, ds_L3_ood), (dr_L3_id, dr_L3_ood)],
    4: [(acc_L4_id, acc_L4_ood), (mi_L4_id, mi_L4_ood), (ts_L4_id, ts_L4_ood),
        (tr_L4_id, tr_L4_ood), (ds_L4_id, ds_L4_ood), (dr_L4_id, dr_L4_ood)],
    5: [(acc_L5_id, acc_L5_ood), (mi_L5_id, mi_L5_ood), (ts_L5_id, ts_L5_ood),
        (tr_L5_id, tr_L5_ood), (ds_L5_id, ds_L5_ood), (dr_L5_id, dr_L5_ood)],
}

# ---------------- layout ----------------
W, H = 1229, 804
fig = plt.figure(figsize=(W / 100, H / 100), dpi=100)

PANEL_W, PANEL_H = 132, 111
GROUP_STEP, PAIR_STEP, ROW_STEP = 299.7, 136.3, 113.9
LEFT0, TOP0 = 29.5, 90
ylims = [(0.28, 0.94), (0.4, 6.6), (0.4, 6.6), (0.4, 6.6), (-0.012, 0.345), (-0.012, 0.345)]
frame_col = '#333333'


def rect(g, s, r):
    left = LEFT0 + GROUP_STEP * g + PAIR_STEP * s
    top = TOP0 + ROW_STEP * r
    return [left / W, 1 - (top + PANEL_H) / H, PANEL_W / W, PANEL_H / H]


for g, L in enumerate(max_lengths):
    cols = palettes[L]
    for r in range(6):
        for s in range(2):
            ax = fig.add_axes(rect(g, s, r))
            series = panel_data[L][r][s]
            if r < 4:
                xs = epochs_s
            elif s == 0:
                xs = epochs_d
            else:
                xs = epochs_n
            for i in range(5, -1, -1):
                y = series[i]
                n = min(len(xs), len(y))
                ax.plot(xs[:n], y[:n], color=cols[i], lw=1.0, solid_joinstyle='round')
            y = series[6]
            n = min(len(xs), len(y))
            ax.plot(xs[:n], y[:n], color='#111111', lw=0.9, ls=(0, (1, 1.3)))
            ax.set_xlim(-0.3, 122.3)
            ax.set_ylim(*ylims[r])
            ax.set_xticks(x_ticks)
            ax.set_yticks(y_ticks[r])
            ax.tick_params(direction='in', top=True, right=True, length=3.5, width=0.8,
                           colors=frame_col, labelsize=9, pad=3)
            if s == 0:
                ax.set_yticklabels(y_ticklabels[r])
            else:
                ax.set_yticklabels([])
            if r == 5:
                ax.set_xticklabels([str(t) for t in x_ticks])
            else:
                ax.set_xticklabels([])
            for sp in ax.spines.values():
                sp.set_color(frame_col)
                sp.set_linewidth(1.2)
            if r == 0:
                ax.text(0.5, (H - 81) / H, split_names[s], transform=fig.transFigure,
                        ha='center', va='baseline', fontsize=13) if False else None

# column headers, group titles, x labels
for g, L in enumerate(max_lengths):
    gx = (LEFT0 + GROUP_STEP * g + (PAIR_STEP + PANEL_W) / 2) / W
    fig.text(gx, 1 - 56 / H, f'max length = {L}', ha='center', va='baseline', fontsize=15)
    fig.text(gx, 1 - 795 / H, 'epoch', ha='center', va='baseline', fontsize=13.5)
    for s in range(2):
        cx = (LEFT0 + GROUP_STEP * g + PAIR_STEP * s + PANEL_W / 2) / W
        fig.text(cx, 1 - 81 / H, split_names[s], ha='center', va='baseline', fontsize=13)

# row labels on the right
for r in range(6):
    cy = 1 - (TOP0 + ROW_STEP * r + PANEL_H / 2) / H
    fig.text(1214 / W, cy, row_labels[r], rotation=270, ha='center', va='center', fontsize=13.5)

fig.text(0.5, 1 - 25 / H, 'Erasure channel', ha='center', va='baseline', fontsize=18)

fig.savefig('out.png', dpi=100)
